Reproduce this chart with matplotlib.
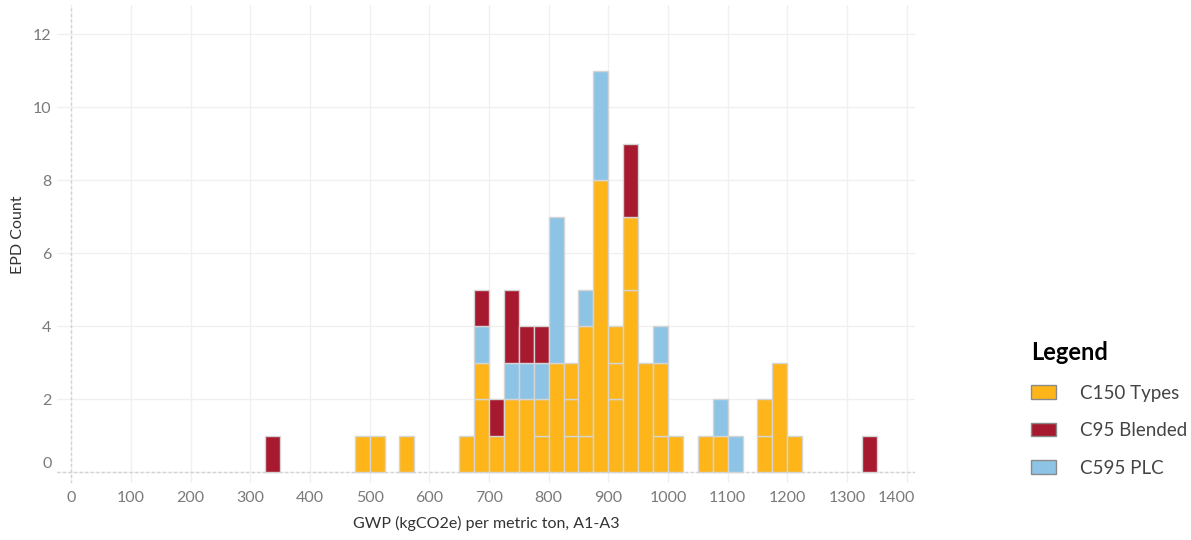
import matplotlib.pyplot as plt
from matplotlib.patches import Patch
from matplotlib.transforms import ScaledTranslation

plt.rcParams['font.family'] = ['Lato', 'DejaVu Sans']

# series names and colours
series = ['C150 Types', 'C95 Blended', 'C595 PLC']
colors = {'C150 Types': '#fdb519', 'C95 Blended': '#a6192e', 'C595 PLC': '#8dc4e5'}

# histogram bins (left edge, width 25) and the stacked pieces in each bin, bottom to top
bin_width = 25
bin_left = [325, 475, 500, 550, 650, 675, 700, 725, 750, 775, 800, 825, 850,
            875, 900, 925, 950, 975, 1000, 1050, 1075, 1100, 1150, 1175, 1200, 1325]
stacks = [
    [('C95 Blended', 1)],
    [('C150 Types', 1)],
    [('C150 Types', 1)],
    [('C150 Types', 1)],
    [('C150 Types', 1)],
    [('C150 Types', 2), ('C150 Types', 1), ('C595 PLC', 1), ('C95 Blended', 1)],
    [('C150 Types', 1), ('C95 Blended', 1)],
    [('C150 Types', 2), ('C595 PLC', 1), ('C95 Blended', 2)],
    [('C150 Types', 2), ('C595 PLC', 1), ('C95 Blended', 1)],
    [('C150 Types', 1), ('C150 Types', 1), ('C595 PLC', 1), ('C95 Blended', 1)],
    [('C150 Types', 3), ('C595 PLC', 4)],
    [('C150 Types', 1), ('C150 Types', 1), ('C150 Types', 1)],
    [('C150 Types', 1), ('C150 Types', 3), ('C595 PLC', 1)],
    [('C150 Types', 8), ('C595 PLC', 3)],
    [('C150 Types', 2), ('C150 Types', 1), ('C150 Types', 1)],
    [('C150 Types', 5), ('C150 Types', 2), ('C95 Blended', 2)],
    [('C150 Types', 3)],
    [('C150 Types', 1), ('C150 Types', 2), ('C595 PLC', 1)],
    [('C150 Types', 1)],
    [('C150 Types', 1)],
    [('C150 Types', 1), ('C595 PLC', 1)],
    [('C595 PLC', 1)],
    [('C150 Types', 1), ('C150 Types', 1)],
    [('C150 Types', 3)],
    [('C150 Types', 1)],
    [('C95 Blended', 1)],
]
x_ticks = list(range(0, 1401, 100))
y_ticks = [0, 2, 4, 6, 8, 10, 12]

fig = plt.figure(figsize=(11.91, 5.4), dpi=100)
ax = fig.add_axes([57 / 1191, 1 - 483 / 540, (915 - 57) / 1191, (483 - 5) / 540])

for left, pieces in zip(bin_left, stacks):
    bottom = 0
    for name, n in pieces:
        ax.bar(left, n, bottom=bottom, width=bin_width, align='edge',
               color=colors[name], edgecolor='#d4d4d4', linewidth=1, zorder=3)
        bottom += n

ax.set_xlim(-24, 1414)
ax.set_ylim(-0.3, 12.8)
ax.set_xticks(x_ticks)
ax.set_yticks(y_ticks)
ax.grid(True, color='#f0f0f0', linewidth=1, zorder=0)
ax.axhline(0, color='#d0d0d0', linewidth=1, linestyle=(0, (2, 2)), zorder=2)
ax.axvline(0, color='#d0d0d0', linewidth=1, linestyle=(0, (2, 2)), zorder=2)
for s in ax.spines.values():
    s.set_visible(False)
ax.tick_params(length=0, labelsize=11.5, labelcolor='#7a7a7a')
ax.tick_params(axis='x', pad=6)
ax.tick_params(axis='y', pad=4)

# tableau-style nudges: 0 label sits above the baseline, 1400 pulled inside
for lab in ax.get_yticklabels():
    if lab.get_text() == '0':
        lab.set_transform(lab.get_transform() + ScaledTranslation(0, 10 / 100, fig.dpi_scale_trans))
for lab in ax.get_xticklabels():
    if lab.get_text() == '1400':
        lab.set_transform(lab.get_transform() + ScaledTranslation(-10 / 100, 0, fig.dpi_scale_trans))

ax.set_xlabel('GWP (kgCO2e) per metric ton, A1-A3', fontsize=11.5, color='#333333')
ax.set_ylabel('EPD Count', fontsize=11.5, color='#333333')
ax.xaxis.set_label_coords(0.5, -(523 - 483) / 478)
ax.yaxis.set_label_coords(-(57 - 18) / 858, (483 - 235) / 478)
ax.xaxis.label.set_va('center')
ax.yaxis.label.set_va('center')

handles = [Patch(facecolor=colors[s], edgecolor='#8a8a8a', linewidth=1) for s in series]
leg = fig.legend(handles, series, loc='upper left', bbox_to_anchor=(1014 / 1191, 1 - 324 / 540),
                 frameon=False, title='Legend', fontsize=13.5, handlelength=1.35, handleheight=0.75,
                 handletextpad=1.25, labelspacing=1.1, alignment='left')
leg.get_title().set_fontsize(17)
leg.get_title().set_fontweight('bold')
for t in leg.get_texts():
    t.set_color('#444444')

fig.savefig('out.png', dpi=100)
